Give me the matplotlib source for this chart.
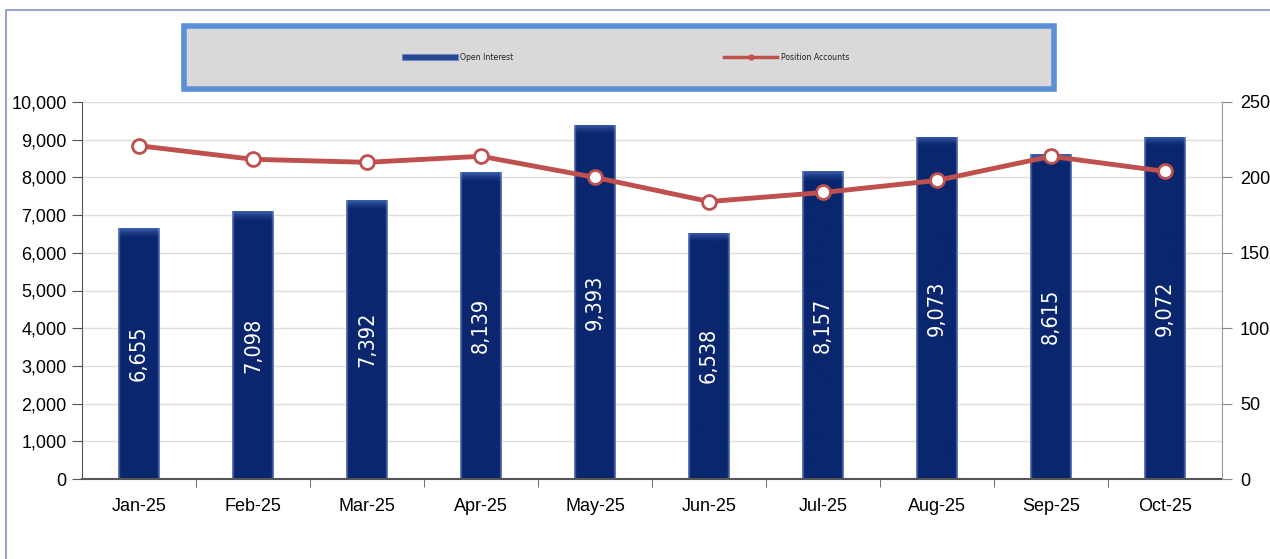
#Open interest and position accounts chart

#import the libraries
import numpy as np
import matplotlib
matplotlib.use('Agg')
import matplotlib.pyplot as plt
from matplotlib import font_manager
from matplotlib.font_manager import FontProperties
from matplotlib.patches import Rectangle
from matplotlib.lines import Line2D
from matplotlib.ticker import FuncFormatter, FixedLocator

#store the data
months = ['Jan-25', 'Feb-25', 'Mar-25', 'Apr-25', 'May-25',
          'Jun-25', 'Jul-25', 'Aug-25', 'Sep-25', 'Oct-25']
open_interest = [6655, 7098, 7392, 8139, 9393, 6538, 8157, 9073, 8615, 9072]
position_accounts = [221, 212, 210, 214, 200, 184, 190, 198, 214, 204]

plt.rcParams['font.family'] = ['Liberation Sans', 'DejaVu Sans']

#look for a narrow font for the data labels
narrow_file = None
for f in font_manager.fontManager.ttflist:
    n = (f.name + ' ' + f.fname).lower()
    if ('narrow' in n or 'condensed' in n) and 'bold' not in n and 'italic' not in n \
            and 'oblique' not in n and 'mono' not in n and 'serif' not in f.name.lower():
        narrow_file = f.fname
        break
if narrow_file:
    label_font = FontProperties(fname=narrow_file, size=15.5)
    legend_font = FontProperties(fname=narrow_file, size=6.2)
else:
    label_font = FontProperties(family='Liberation Sans', size=14)
    legend_font = FontProperties(family='Liberation Sans', size=6)

navy = np.array([10, 38, 110]) / 255
cap_col = np.array([60, 95, 175]) / 255
edge_col = np.array([120, 145, 205]) / 255
red = '#c0504d'

#Get the figure
fig = plt.figure(figsize=(12.7, 5.59), dpi=100)
ax = fig.add_axes([82/1270, 1-479/559, (1222-82)/1270, (479-102)/559])
ax2 = ax.twinx()

x = np.arange(len(months))

#bars for open interest
bars = ax.bar(x, open_interest, width=0.36, color=navy, linewidth=0, zorder=2)

#shade each bar: lighter edges and a lighter cap on top
ncol, nrow = 41, 400
for b in bars:
    h = b.get_height()
    cap = 260 / h
    u = np.linspace(0, 1, ncol)
    edge = np.clip(1 - np.minimum(u, 1 - u) * ncol / 2.2, 0, 1)[None, :, None]
    v = np.linspace(1, 0, nrow)[:, None, None]
    top = np.clip((v - (1 - cap)) / cap, 0, 1) ** 1.5
    img = navy * np.ones((nrow, ncol, 3))
    img = img * (1 - top) + cap_col * top
    img = img * (1 - 0.8 * edge) + edge_col * 0.8 * edge
    im = ax.imshow(img, extent=[b.get_x(), b.get_x() + b.get_width(), 0, h],
                   aspect='auto', zorder=2.1, interpolation='bilinear')
    im.set_clip_path(b)

#data labels inside the bars
for xi, val in zip(x, open_interest):
    ax.text(xi, val/2, f'{val:,}', rotation=90, ha='center', va='center',
            color='white', fontproperties=label_font, zorder=3)

ax.set_xlim(-0.5, len(months) - 0.5)
ax.set_ylim(0, 10000)
ax.set_yticks(np.arange(0, 10001, 1000))
ax.yaxis.set_major_formatter(FuncFormatter(lambda val, p: f'{int(val):,}'))
ax.set_xticks(x)
ax.set_xticklabels(months)
ax.xaxis.set_minor_locator(FixedLocator(np.arange(0.5, len(months) - 1, 1)))
ax.tick_params(axis='x', which='major', length=0, pad=14, labelsize=13)
ax.tick_params(axis='x', which='minor', length=6, color='#555555', direction='out')
ax.tick_params(axis='y', length=7, color='#555555', labelsize=13, pad=4)
ax.grid(axis='y', color='#dddddd', linewidth=1, zorder=0)
ax.set_axisbelow(True)

#line for position accounts
ax2.plot(x, position_accounts, color=red, lw=3.5, marker='o', markersize=10,
         markerfacecolor='white', markeredgecolor=red, markeredgewidth=2, zorder=4)
ax2.set_ylim(0, 250)
ax2.set_yticks(np.arange(0, 251, 50))
ax2.tick_params(axis='y', length=7, color='#888888', labelsize=13, pad=6)

for a in (ax, ax2):
    a.spines['top'].set_visible(False)
ax.spines['left'].set_color('#555555')
ax.spines['bottom'].set_color('#555555')
ax.spines['bottom'].set_linewidth(1.5)
ax.spines['right'].set_visible(False)
ax2.spines['left'].set_visible(False)
ax2.spines['bottom'].set_visible(False)
ax2.spines['right'].set_color('#999999')

#outer chart frame
fig.add_artist(Rectangle((6/1270, -0.05), 1.1, 1-10/559 + 0.05,
                         transform=fig.transFigure, fill=False,
                         edgecolor='#8096c8', linewidth=1.2))

#legend box, drawn by hand
fig.add_artist(Rectangle((184/1270, 1-89/559), (1054-184)/1270, (89-26)/559,
                         transform=fig.transFigure, facecolor='#d9d9d9',
                         edgecolor='#5b8fd6', linewidth=4))
ly = 1 - 57/559
fig.add_artist(Rectangle((402/1270, ly - 3/559), 56/1270, 6/559,
                         transform=fig.transFigure, facecolor='#24458f',
                         edgecolor='#6f86c0', linewidth=0.8))
fig.add_artist(Line2D([724/1270, 777/1270], [ly, ly], transform=fig.transFigure,
                      color=red, lw=2.5))
fig.add_artist(Line2D([750.5/1270], [ly], transform=fig.transFigure,
                      color=red, marker='o', markersize=3.5))
fig.text(460/1270, ly, 'Open Interest', va='center', ha='left', color='#222222',
         fontproperties=legend_font)
fig.text(781/1270, ly, 'Position Accounts', va='center', ha='left', color='#222222',
         fontproperties=legend_font)

fig.savefig('out.png', dpi=100)
